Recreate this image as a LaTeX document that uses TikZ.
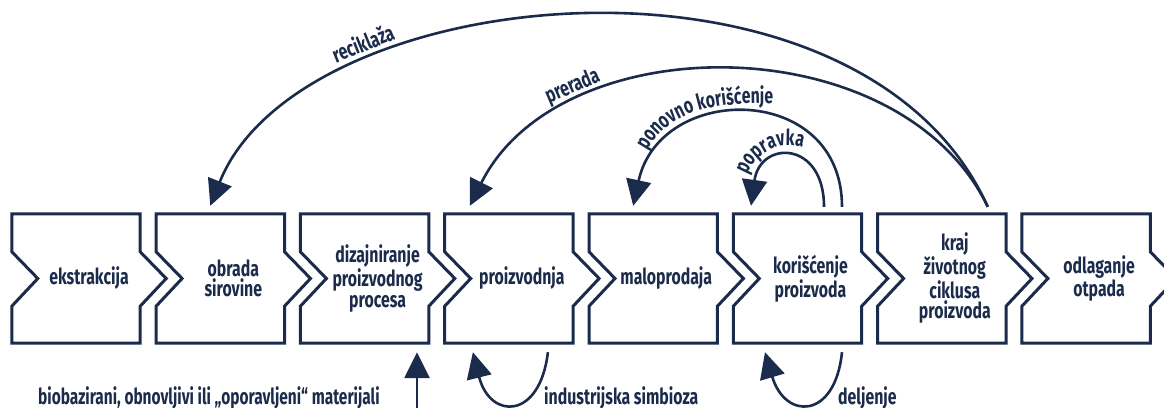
\documentclass[tikz,border=0pt]{standalone}
\usepackage{fontspec}
\setmainfont{Fira Sans}[FakeStretch=0.72]
\usetikzlibrary{arrows.meta,decorations.text}
\definecolor{navy}{HTML}{1B2B4B}
\newcommand{\lblfont}{\bfseries\fontsize{22}{20.5}\selectfont}
\begin{document}
\begin{tikzpicture}[x=1pt,y=1pt,
  box/.style={minimum width=102pt, minimum height=129pt, inner sep=0pt, align=center, text=navy, font=\lblfont},
  outline/.style={draw=navy, line width=3pt, line join=miter},
  conn/.style={draw=navy, line width=2.6pt, -{Triangle[length=26pt,width=25pt]}},
  lab/.style={text=navy, font=\lblfont, inner sep=0pt}]
\useasboundingbox (0,0) rectangle (1164,407);
\foreach \i/\t in {1/{ekstrakcija}, 2/{obrada\\sirovine}, 3/{dizajniranje\\proizvodnog\\procesa}, 4/{proizvodnja}, 5/{maloprodaja}, 6/{korišćenje\\proizvoda}, 7/{kraj\\životnog\\ciklusa\\proizvoda}, 8/{odlaganje\\otpada}}{
  \node[box] (b\i) at ({89+144.3*(\i-1)},128.5) {\t};
  \draw[outline] ([xshift=-26]b\i.north west) -- (b\i.north east) -- ([yshift=-38]b\i.north east) -- ([xshift=26]b\i.east) -- ([yshift=37]b\i.south east) -- (b\i.south east) -- ([xshift=-26]b\i.south west) -- ([xshift=-26,yshift=37]b\i.south west) -- (b\i.west) -- ([xshift=-26,yshift=-38]b\i.north west) -- cycle;
}
% top loops
\draw[conn] ([shift={(33,7)}]b7.north) .. controls (860,482) and (300,427) .. ([shift={(-23,8)}]b2.north);
\draw[conn] ([shift={(33,7)}]b7.north) .. controls (900,382) and (560,382) .. ([shift={(-52,8)}]b4.north);
\draw[conn] ([shift={(31.5,7)}]b6.north) .. controls (842,325) and (660,325) .. ([shift={(-33,8)}]b5.north);
\draw[conn] ([shift={(13.5,7)}]b6.north) .. controls (824,267) and (760,267) .. ([shift={(-59.5,8)}]b6.north);
% bottom loops
\draw[conn] ([shift={(26,-9)}]b4.south) .. controls (540,-13) and (490,-13) .. ([shift={(-49,-9)}]b4.south);
\draw[conn] ([shift={(31.5,-9)}]b6.south) .. controls (835,-13) and (785,-13) .. ([shift={(-45.5,-9)}]b6.south);
\coordinate (bs) at (417,-4);
\draw[conn] (bs) -- ([shift={(39.4,-9)}]b3.south);
% labels
\node[lab, rotate=22, anchor=base] (lr) at (366,356) {reciklaža};
\node[lab, rotate=23, anchor=base] (lp) at (575,315) {prerada};
\node[lab, anchor=base west] (li) at (544,3) {industrijska simbioza};
\node[lab, anchor=base west] (ld) at (838,3) {deljenje};
\node[lab, anchor=base west] (lb) at (38,3) {\scalebox{0.975}[1]{biobazirani, obnovljivi ili „oporavljeni“ materijali}};
\path[decorate, decoration={text along path, text align=left, text={|\lblfont\color{navy}|ponovno korišćenje}}] (647,256) .. controls (668,295) and (710,307) .. (790,303);
\path[decorate, decoration={text along path, text align=left, text={|\lblfont\color{navy}|popravka}}] (747,232) arc[start angle=160, end angle=60, radius=45];
\end{tikzpicture}
\end{document}
